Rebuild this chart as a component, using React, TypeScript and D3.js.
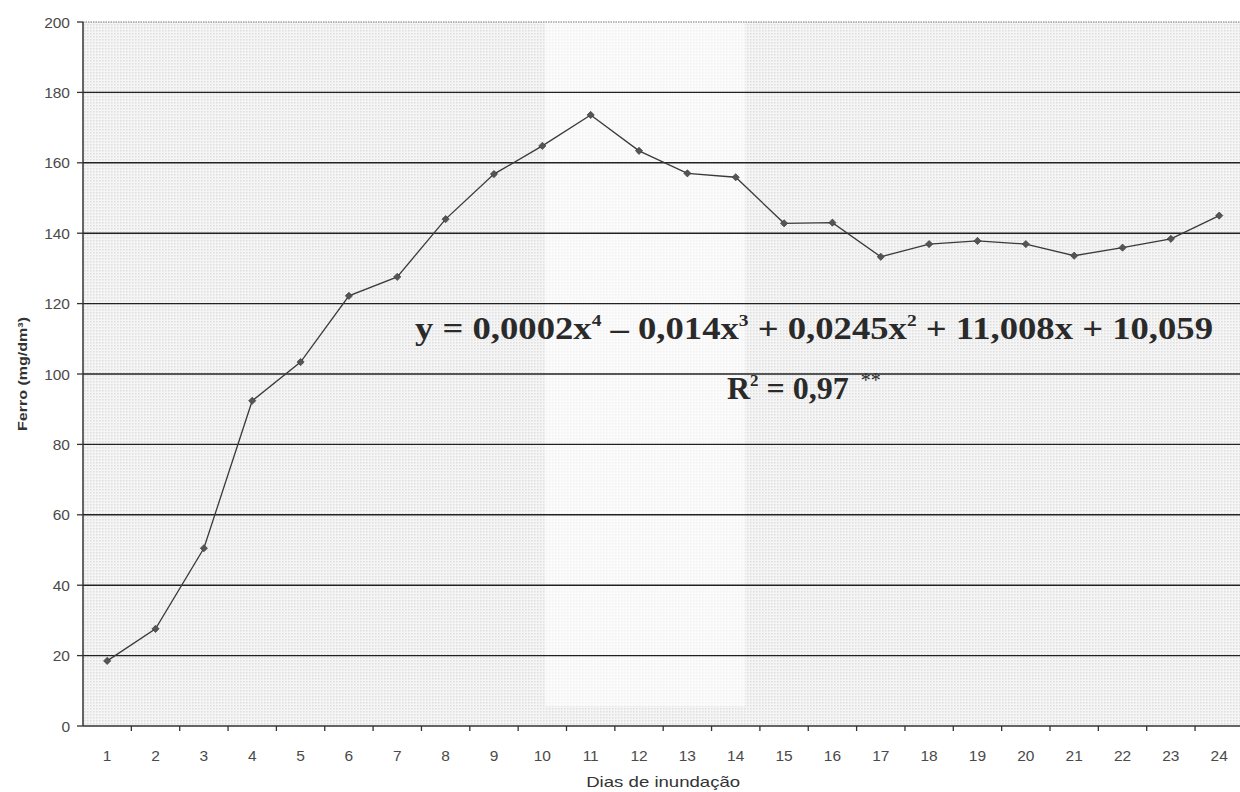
import React from 'react';
import * as d3 from 'd3';

const categories = ['1','2','3','4','5','6','7','8','9','10','11','12','13','14','15','16','17','18','19','20','21','22','23','24'];
const ferro = [18.5, 27.6, 50.5, 92.4, 103.4, 122.2, 127.6, 144, 156.8, 164.8, 173.6, 163.4, 157, 155.9, 142.8, 143, 133.3, 136.9, 137.8, 136.9, 133.6, 135.9, 138.4, 145];
const yTicks = [0, 20, 40, 60, 80, 100, 120, 140, 160, 180, 200];
const xTitle = 'Dias de inundação';
const yTitle = 'Ferro (mg/dm³)';

const W = 1240, H = 792;
const left = 83, top = 22, bottom = 726, band = 48.35;

export default function App() {
  const x = d3.scaleBand<string>().domain(categories).range([left, left + band * categories.length]).padding(0);
  const y = d3.scaleLinear().domain([0, 200]).range([bottom, top]);
  const cx = (c: string) => (x(c) as number) + x.bandwidth() / 2;
  const line = d3.line<number>().x((_, i) => cx(categories[i])).y(d => y(d));
  const right = left + band * categories.length;
  const marker = d3.symbol().type(d3.symbolSquare).size(26)();
  const sans = "'Liberation Sans', Arial, sans-serif";
  const serif = "'Liberation Serif', 'Times New Roman', serif";
  return (
    <svg width={W} height={H} style={{ position: 'absolute', left: 0, top: 0, background: '#fff' }}>
      <defs>
        <pattern id="dots" width="3" height="3" patternUnits="userSpaceOnUse">
          <rect width="3" height="3" fill="#f5f5f5" />
          <rect width="1.5" height="1.5" fill="#dedede" />
        </pattern>
      </defs>
      <rect x={left} y={top} width={right - left} height={bottom - top} fill="url(#dots)" />
      <rect x={545} y={top} width={200} height={bottom - top - 20} fill="#fff" opacity={0.6} />
      {/* top border */}
      <line x1={left} x2={right} y1={y(200)} y2={y(200)} stroke="#777" strokeWidth={1.2} strokeDasharray="1.5 1" />
      {/* gridlines */}
      {yTicks.filter(t => t > 0 && t < 200).map(t => (
        <line key={t} x1={left} x2={right} y1={y(t)} y2={y(t)} stroke="#222" strokeWidth={1.4} />
      ))}
      {/* y axis */}
      <line x1={left} x2={left} y1={top} y2={bottom} stroke="#333" strokeWidth={1.5} />
      {yTicks.map(t => (
        <g key={t}>
          <line x1={left - 6} x2={left} y1={y(t)} y2={y(t)} stroke="#333" strokeWidth={1.3} />
          <text x={70} y={y(t)} dy="0.36em" textAnchor="end" fontFamily={sans} fontSize={15.5} fill="#4a4a4a">{t}</text>
        </g>
      ))}
      {/* x axis */}
      <line x1={left} x2={right} y1={bottom} y2={bottom} stroke="#333" strokeWidth={1.5} />
      {categories.map((c) => (
        <g key={c}>
          <line x1={(x(c) as number) + x.bandwidth()} x2={(x(c) as number) + x.bandwidth()} y1={bottom} y2={bottom + 5} stroke="#333" strokeWidth={1.3} />
          <text x={cx(c)} y={761} textAnchor="middle" fontFamily={sans} fontSize={15.5} fill="#4a4a4a">{c}</text>
        </g>
      ))}
      <text x={(left + right) / 2} y={787} textAnchor="middle" fontFamily={sans} fontSize={15} fill="#333" textLength={154} lengthAdjust="spacingAndGlyphs">{xTitle}</text>
      <text transform={`translate(27,${(top + bottom) / 2}) rotate(-90)`} textAnchor="middle" fontFamily={sans} fontSize={13.5} fontWeight="bold" fill="#333" textLength={114} lengthAdjust="spacingAndGlyphs">{yTitle}</text>
      {/* series */}
      <path d={line(ferro) as string} fill="none" stroke="#3a3a3a" strokeWidth={1.3} />
      {ferro.map((v, i) => (
        <path key={i} d={marker as string} transform={`translate(${cx(categories[i])},${y(v)}) rotate(45)`} fill="#555" stroke="#333" strokeWidth={0.6} />
      ))}
      {/* equation */}
      <text x={415} y={339} fontFamily={serif} fontSize={32} fontWeight="bold" fill="#2a2a2a" textLength={798} lengthAdjust="spacingAndGlyphs">
        y = 0,0002x<tspan dy={-13} fontSize={17}>4</tspan><tspan dy={13}> – 0,014x</tspan><tspan dy={-13} fontSize={17}>3</tspan><tspan dy={13}> + 0,0245x</tspan><tspan dy={-13} fontSize={17}>2</tspan><tspan dy={13}> + 11,008x + 10,059</tspan>
      </text>
      <text x={727} y={399} fontFamily={serif} fontSize={32} fontWeight="bold" fill="#2a2a2a">
        R<tspan dy={-13} fontSize={17}>2</tspan><tspan dy={13}> = 0,97 </tspan><tspan dx={4} dy={-12} fontSize={20} fontWeight="normal">**</tspan>
      </text>
    </svg>
  );
}
